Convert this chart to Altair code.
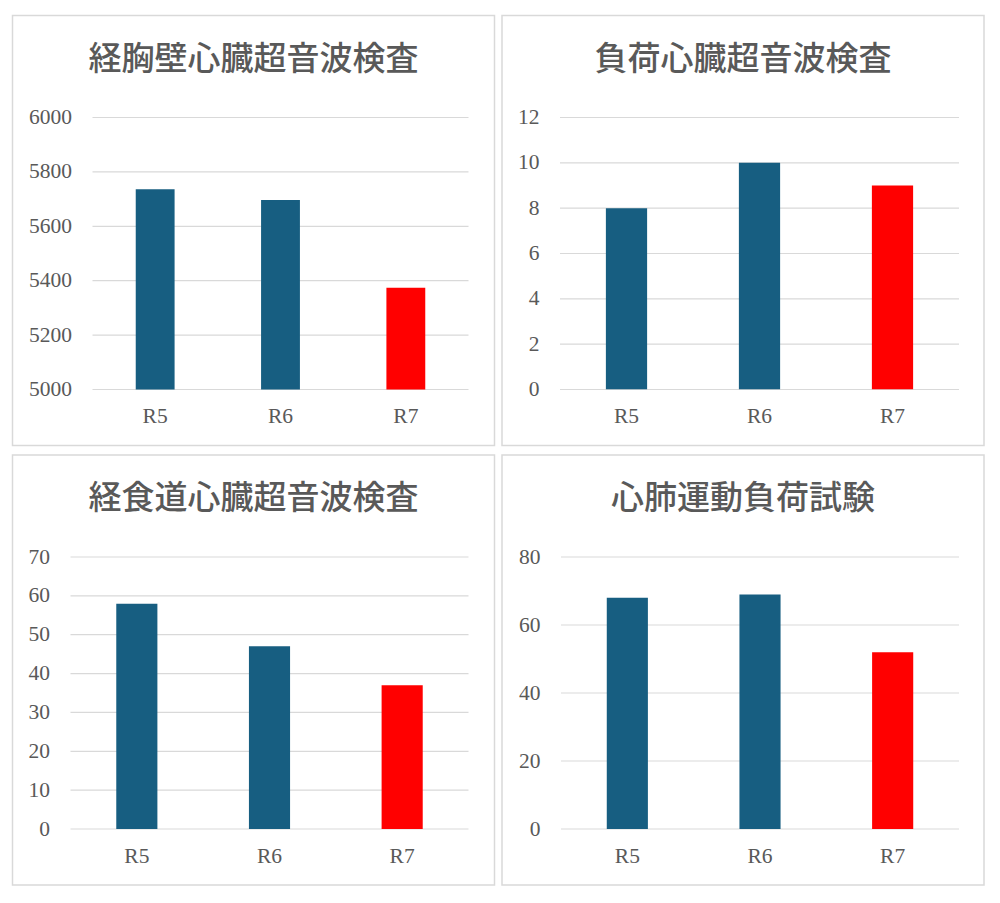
import altair as alt
import pandas as pd

categories = ["R5", "R6", "R7"]
titles = ["経胸壁心臓超音波検査", "負荷心臓超音波検査", "経食道心臓超音波検査", "心肺運動負荷試験"]
values_tte = [5736, 5697, 5374]
values_stress = [8, 10, 9]
values_tee = [58, 47, 37]
values_cpx = [68, 69, 52]
bar_colors = ["#175E81", "#175E81", "#FF0000"]

y_domains = [(5000, 6000), (0, 12), (0, 70), (0, 80)]
y_ticks = [list(range(5000, 6001, 200)), list(range(0, 13, 2)), list(range(0, 71, 10)), list(range(0, 81, 20))]

TEXT = "#595959"
GRID = "#D9D9D9"
LABEL_FONT = "Liberation Serif"
LABEL_SIZE = 21.5

VIEW_W = 376
VIEW_H = 272
FRAME_L = 80      # frame left edge, left of the view origin
FRAME_R = 26      # frame right edge, right of the view's right side
FRAME_T = 102
FRAME_B = 56


def panel(title, vals, domain, ticks, x_range):
    df = pd.DataFrame({"cat": categories, "val": vals, "col": bar_colors})
    tdf = pd.DataFrame({"val": ticks})
    yscale = alt.Scale(domain=list(domain), nice=False, zero=False)
    yaxis = alt.Axis(title=None, values=ticks, domain=False, ticks=False, grid=False,
                     labelPadding=21 - x_range[0], format="d", labelFont=LABEL_FONT,
                     labelFontSize=LABEL_SIZE, labelColor=TEXT)
    grid = alt.Chart(tdf).mark_rule(color=GRID, strokeWidth=1.2).encode(
        y=alt.Y("val:Q", scale=yscale, axis=yaxis),
        x=alt.value(x_range[0]), x2=alt.value(x_range[1]),
    )
    bars = alt.Chart(df).mark_bar(clip=True).encode(
        x=alt.X("cat:N", sort=categories,
                scale=alt.Scale(paddingInner=0.69, paddingOuter=0.345, range=list(x_range)),
                axis=alt.Axis(title=None, labelAngle=0, domain=False, ticks=False,
                              grid=False, labelPadding=16, labelFont=LABEL_FONT,
                              labelFontSize=LABEL_SIZE, labelColor=TEXT)),
        y=alt.Y("val:Q", scale=yscale, axis=yaxis),
        color=alt.Color("col:N", scale=None),
    )
    one = pd.DataFrame({"t": [title]})
    frame = alt.Chart(one).mark_rect(filled=False, stroke=GRID, strokeWidth=1.5).encode(
        x=alt.value(-FRAME_L), x2=alt.value(VIEW_W + FRAME_R),
        y=alt.value(-FRAME_T), y2=alt.value(VIEW_H + FRAME_B),
    )
    ttl = alt.Chart(one).mark_text(
        font="Noto Sans CJK JP", fontSize=33, fontWeight=500, color=TEXT,
        align="center", baseline="middle"
    ).encode(
        x=alt.value((-FRAME_L + VIEW_W + FRAME_R) / 2), y=alt.value(-58), text="t:N"
    )
    return alt.layer(frame, grid, bars, ttl).properties(width=VIEW_W, height=VIEW_H)


p1 = panel(titles[0], values_tte, y_domains[0], y_ticks[0], (0, 376))
p2 = panel(titles[1], values_stress, y_domains[1], y_ticks[1], (-22, 377))
p3 = panel(titles[2], values_tee, y_domains[2], y_ticks[2], (-22, 376))
p4 = panel(titles[3], values_cpx, y_domains[3], y_ticks[3], (-21, 377))

chart = alt.concat(
    p1, p2, p3, p4, columns=2,
    spacing=alt.RowColnumber(row=7.5, column=5.5),
).properties(
    padding={"left": 11.5, "top": 14.5, "right": 5, "bottom": 5},
    background="white",
).configure_view(stroke=None)

chart.save("out.html", embed_options={"renderer": "svg", "actions": False})
